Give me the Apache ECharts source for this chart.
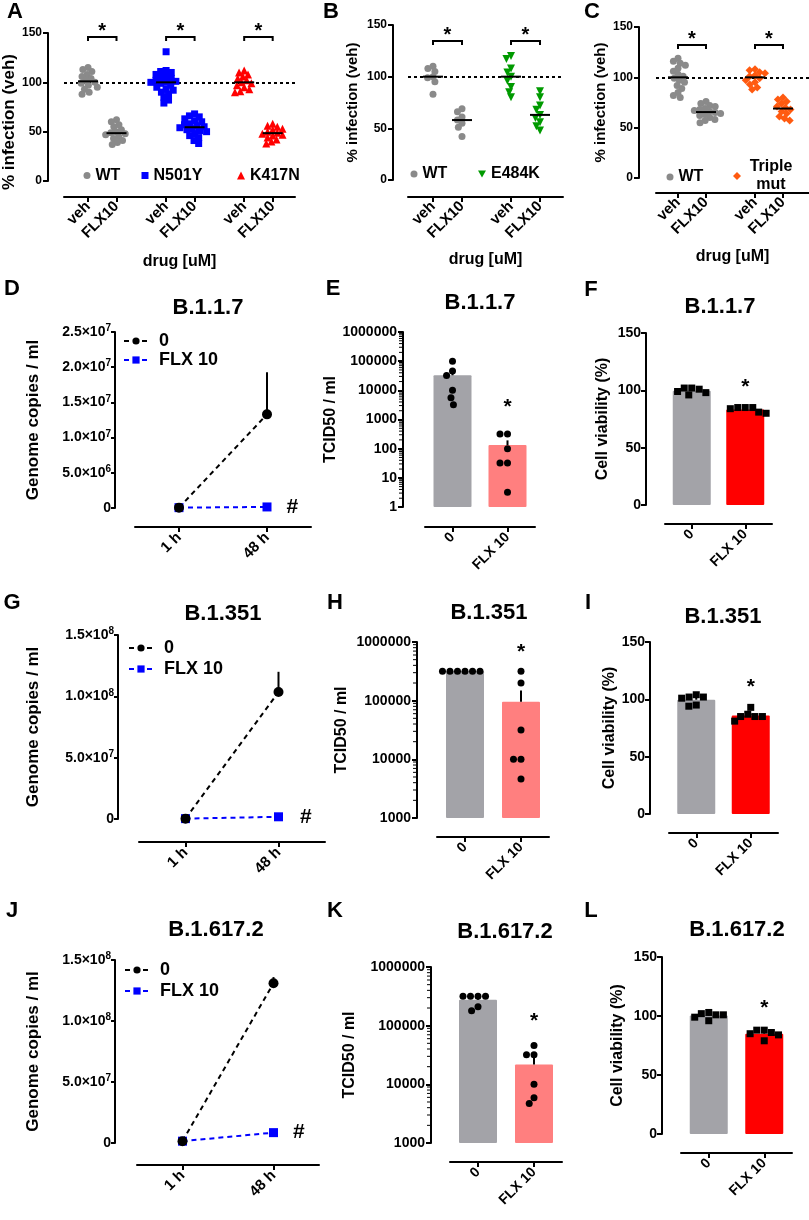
<!DOCTYPE html>
<html><head><meta charset="utf-8">
<script src="https://cdn.jsdelivr.net/npm/echarts@6/dist/echarts.min.js"></script>
<style>html,body{margin:0;padding:0;background:#fff}#c{width:809px;height:1220px}</style>
</head><body><div id="c"></div>
<script>
// ================= DATA =================
// Panel A: % infection (normalised to vehicle)
const A_WT_veh = [115, 113, 111, 108, 106, 104, 102, 100, 99, 97, 95, 93, 90, 88];
const A_WT_flx = [62, 60, 57, 55, 52, 50, 49, 48, 47, 45, 43, 41, 39, 37];
const A_N501Y_veh = [131, 112, 111, 110, 108, 106, 105, 104, 102, 101, 100, 100, 99, 97, 95, 93, 92, 90, 88, 85, 82, 79];
const A_N501Y_flx = [68, 66, 65, 63, 61, 60, 58, 57, 56, 55, 54, 53, 52, 51, 50, 48, 46, 44, 41, 38];
const A_K417N_veh = [112, 110, 108, 106, 104, 102, 100, 99, 97, 95, 93, 91, 90];
const A_K417N_flx = [58, 56, 55, 53, 52, 50, 49, 48, 47, 46, 44, 42, 40, 38];
// Panel B
const B_WT_veh = [110, 108, 105, 100, 99, 95, 83];
const B_WT_flx = [69, 66, 61, 58, 55, 51, 42];
const B_E484K_veh = [120, 117, 108, 104, 100, 96, 90, 85, 80];
const B_E484K_flx = [86, 80, 72, 68, 63, 60, 56, 52, 48];
// Panel C
const C_WT_veh = [119, 116, 114, 112, 109, 106, 103, 101, 99, 97, 95, 92, 89, 85, 82, 80];
const C_WT_flx = [76, 74, 72, 71, 69, 68, 67, 66, 65, 64, 63, 62, 60, 58, 57, 55];
const C_Triple_veh = [108, 107, 105, 104, 102, 101, 99, 97, 95, 93, 90, 88];
const C_Triple_flx = [80, 78, 76, 74, 71, 70, 68, 66, 64, 61, 59, 57];
const drugLabels = ['veh', 'FLX10'];
// Panels D, G, J: genome copies / ml (mean, upper error)
const timeLabels = ['1 h', '48 h'];
const D_zero = [5e4, 1.33e7];  const D_zero_err = [0, 6.0e6];  const D_flx = [5e4, 1.5e5];
const G_zero = [3e5, 1.035e8]; const G_zero_err = [0, 1.65e7]; const G_flx = [3e5, 1.8e6];
const J_zero = [1.5e6, 1.31e8]; const J_zero_err = [0, 5e6];   const J_flx = [1.5e6, 8.5e6];
// Panels E, H, K: TCID50 / ml (individual wells)
const doseLabels = ['0', 'FLX 10'];
const E_tcid_0 = [100000, 46000, 32000, 10000, 5600, 3200];
const E_tcid_flx = [316, 316, 100, 32, 32, 3.2];
const H_tcid_0 = [316228, 316228, 316228, 316228, 316228, 316228];
const H_tcid_flx = [316228, 200000, 31623, 10000, 10000, 4600];
const K_tcid_0 = [316228, 316228, 316228, 316228, 210000, 180000];
const K_tcid_flx = [46000, 32000, 32000, 10000, 5900, 4700];
// Panels F, I, L: cell viability (%)
const F_via_0 = [102, 101, 98, 96, 99, 102];
const F_via_flx = [85, 84, 80, 81, 85, 85];
const I_via_0 = [102, 101, 102, 104, 94, 95];
const I_via_flx = [87, 85, 81, 85, 93, 85];
const L_via_0 = [102, 101, 96, 99, 101, 103];
const L_via_flx = [88, 85, 79, 84, 88, 86];
const variantTitles = ['B.1.1.7', 'B.1.351', 'B.1.617.2'];
const panelLetters = ['A','B','C','D','E','F','G','H','I','J','K','L'];

// ================= HELPERS =================
const FONT = '"Liberation Sans", Arial, Helvetica, sans-serif';
const TXT = {color: '#000', fontWeight: 'bold', fontFamily: FONT};
const AXLINE = {show: true, onZero: false, lineStyle: {color: '#000', width: 2}};
function tick(len) { return {show: true, length: len || 5, lineStyle: {color: '#000', width: 2}}; }
function mean(a) { return a.reduce((s, v) => s + v, 0) / a.length; }
function sem(a) { const m = mean(a); const v = a.reduce((s, x) => s + (x - m) * (x - m), 0) / (a.length - 1); return Math.sqrt(v / a.length); }
function median(a) { const s = [...a].sort((x, y) => x - y); const n = s.length; return n % 2 ? s[(n - 1) / 2] : (s[n / 2 - 1] + s[n / 2]) / 2; }
function T(extra) { return Object.assign({}, TXT, extra); }

const option = {animation: false, backgroundColor: '#fff', textStyle: {fontFamily: FONT},
  grid: [], xAxis: [], yAxis: [], series: [], legend: [], graphic: []};
const swarmJobs = [];

function starText(x, y, size) {
  return {type: 'text', x: x, y: y, style: {text: '*', fill: '#000', font: 'bold ' + (size || 20) + 'px ' + FONT, align: 'center', verticalAlign: 'middle', textAlign: 'center', textVerticalAlign: 'middle'}};
}

// ---------- scatter (dot plot) panels A-C ----------
function scatterPanel(p) {
  const gi = option.grid.length;
  option.grid.push(Object.assign({}, p.grid));
  const positions = [];
  p.groups.forEach((g, k) => positions.push(k * p.pairGap, k * p.pairGap + 1));
  const labelOf = v => { const i = positions.findIndex(q => Math.abs(q - v) < 1e-6); return i < 0 ? '' : drugLabels[i % 2]; };
  option.xAxis.push({gridIndex: gi, type: 'value',
    min: (p.grid.left - p.origin) / p.step, max: (p.grid.left + p.grid.width - p.origin) / p.step,
    offset: p.xOff, axisLine: AXLINE, axisTick: Object.assign(tick(5), {customValues: positions}),
    splitLine: {show: false},
    axisLabel: T({fontSize: 15, rotate: 45, margin: 7, customValues: positions, formatter: labelOf}),
    name: 'drug [uM]', nameLocation: 'middle', nameGap: p.xNameGap, nameTextStyle: T({fontSize: 16})});
  option.yAxis.push({gridIndex: gi, type: 'value', min: 0, max: 150, interval: 50, offset: p.yOff,
    axisLine: AXLINE, axisTick: tick(5), splitLine: {show: false},
    axisLabel: T({fontSize: 12, margin: 6}),
    name: '% infection (veh)', nameLocation: 'middle', nameGap: p.yNameGap,
    nameTextStyle: T({fontSize: p.yNameSize, padding: p.yNamePad || 0})});
  const medians = [], brackets = [];
  p.groups.forEach((g, k) => {
    const x0 = positions[2 * k], x1 = positions[2 * k + 1];
    const si = option.series.length;
    const s = {type: 'scatter', name: g.name, xAxisIndex: gi, yAxisIndex: gi, symbol: g.symbol, symbolSize: g.size,
      itemStyle: {color: g.color, opacity: 1}, z: 3,
      data: [...g.veh.map(v => [x0, v]), ...g.flx.map(v => [x1, v])]};
    if (k === 0) s.markLine = {silent: true, symbol: ['none', 'none'], label: {show: false}, z: 1,
      lineStyle: {type: [3, 3], color: '#000', width: 2}, data: [{yAxis: 100}]};
    option.series.push(s);
    swarmJobs.push({si: si, d: 5.5});
    medians.push([x0, median(g.veh)], [x1, median(g.flx)]);
    brackets.push([x0, x1, p.bracketVal]);
  });
  option.series.push({type: 'custom', xAxisIndex: gi, yAxisIndex: gi, z: 6, encode: {x: 0, y: 1}, data: medians,
    renderItem: (params, api) => {
      const c = api.coord([api.value(0), api.value(1)]);
      return {type: 'line', shape: {x1: c[0] - 10, y1: c[1], x2: c[0] + 10, y2: c[1]}, style: {stroke: '#000', lineWidth: 2}};
    }});
  option.series.push({type: 'custom', xAxisIndex: gi, yAxisIndex: gi, z: 6, encode: {x: [0, 1], y: 2}, data: brackets,
    renderItem: (params, api) => {
      const a = api.coord([api.value(0), api.value(2)]);
      const b = api.coord([api.value(1), api.value(2)]);
      return {type: 'group', children: [
        {type: 'polyline', shape: {points: [[a[0], a[1] + 4], [a[0], a[1]], [b[0], b[1]], [b[0], b[1] + 4]]},
          style: {stroke: '#000', lineWidth: 2, fill: null}},
        starText((a[0] + b[0]) / 2, a[1] - 10 + 4.5, 20)]};
    }});
  p.legends.forEach(L => {
    option.legend.push({data: [L.name], left: L.left, top: L.top, padding: 0, itemWidth: L.size, itemHeight: L.size,
      selectedMode: false, itemGap: 0,
      formatter: n => n === 'Triple mut' ? '{c|Triple}\n{c|mut}' : n,
      textStyle: T({fontSize: 16, rich: {c: T({fontSize: 16, align: 'center', width: 50, lineHeight: 18})}})});
  });
}

// ---------- line panels D, G, J ----------
function sciLabel(v) {
  if (v === 0) return '{b|0}';
  const e = Math.floor(Math.log10(v) + 1e-9);
  const m = v / Math.pow(10, e);
  return '{b|' + m.toFixed(1) + '×10}{s|' + e + '}';
}
function linePanel(p) {
  const gi = option.grid.length;
  option.grid.push(Object.assign({}, p.grid));
  option.xAxis.push({gridIndex: gi, type: 'category', data: timeLabels, boundaryGap: true, offset: p.xOff,
    axisLine: AXLINE, axisTick: Object.assign(tick(5), {alignWithLabel: true}),
    axisLabel: T({fontSize: 15, rotate: 45, margin: 8})});
  option.yAxis.push({gridIndex: gi, type: 'value', min: 0, max: p.yMax, interval: p.yInt, offset: p.yOff,
    axisLine: AXLINE, axisTick: tick(4), splitLine: {show: false},
    axisLabel: {margin: 4, formatter: sciLabel, rich: {
      b: T({fontSize: 14, lineHeight: 17}),
      s: T({fontSize: 10, lineHeight: 7, verticalAlign: 'top'})}},
    name: 'Genome copies / ml', nameLocation: 'middle', nameGap: p.yNameGap, nameTextStyle: T({fontSize: 17})});
  const dash = [5, 4];
  option.series.push({type: 'line', name: 'FLX 10', xAxisIndex: gi, yAxisIndex: gi, z: 3,
    symbol: 'rect', symbolSize: 9, color: '#0000ff',
    lineStyle: {color: '#0000ff', width: 2, type: dash}, itemStyle: {color: '#0000ff'},
    data: p.flx.map((v, i) => i === 1 ? {value: v, label: {show: true, formatter: '#', position: 'right', distance: p.hashDist,
      color: '#000', fontWeight: 'bold', fontSize: 21, fontFamily: FONT}} : v)});
  option.series.push({type: 'line', name: '0', xAxisIndex: gi, yAxisIndex: gi, z: 4,
    symbol: 'circle', symbolSize: 10, color: '#000',
    lineStyle: {color: '#000', width: 2, type: dash}, itemStyle: {color: '#000'}, data: p.zero.slice()});
  const errs = [];
  p.zero.forEach((m, i) => { if (p.zeroErr[i] > 0) errs.push([i, m, m + p.zeroErr[i]]); });
  option.series.push({type: 'custom', xAxisIndex: gi, yAxisIndex: gi, z: 2, encode: {x: 0, y: [1, 2]}, data: errs,
    renderItem: (params, api) => {
      const a = api.coord([api.value(0), api.value(1)]), b = api.coord([api.value(0), api.value(2)]);
      return {type: 'line', shape: {x1: a[0], y1: a[1], x2: b[0], y2: b[1]}, style: {stroke: '#000', lineWidth: 2}};
    }});
  option.legend.push({data: ['0', 'FLX 10'], orient: 'vertical', left: p.legend.left, top: p.legend.top, padding: 0,
    itemWidth: 24, itemHeight: 9, itemGap: p.legend.gap, selectedMode: false,
    textStyle: T({fontSize: 18, padding: [0, 0, 0, 6]})});
}

// ---------- bar panels E/F, H/I, K/L ----------
function barPanel(p) {
  const gi = option.grid.length;
  option.grid.push(Object.assign({}, p.grid));
  option.xAxis.push({gridIndex: gi, type: 'category', data: doseLabels, boundaryGap: true, offset: p.xOff,
    axisLine: AXLINE, axisTick: Object.assign(tick(5), {alignWithLabel: true}),
    axisLabel: T({fontSize: 14, rotate: 45, margin: 8})});
  const y = {gridIndex: gi, offset: p.yOff, axisLine: AXLINE, axisTick: tick(5), splitLine: {show: false},
    name: p.yName, nameLocation: 'middle', nameGap: p.yNameGap, nameTextStyle: T({fontSize: 16})};
  if (p.log) Object.assign(y, {type: 'log', logBase: 10, min: p.yMin, max: p.yMax,
      axisLabel: T({fontSize: 14, margin: 6, formatter: v => String(Math.round(v))})});
  else Object.assign(y, {type: 'value', min: 0, max: 150, interval: 50, axisLabel: T({fontSize: 14, margin: 5})});
  option.yAxis.push(y);
  if (p.log) {
    // minor log ticks (2..9 x each decade) drawn on the y axis line
    const minor = [];
    for (let e = Math.round(Math.log10(p.yMin)); e < Math.round(Math.log10(p.yMax)); e++)
      for (let m = 2; m <= 9; m++) minor.push([0, m * Math.pow(10, e)]);
    option.series.push({type: 'custom', xAxisIndex: gi, yAxisIndex: gi, z: 5, silent: true, encode: {x: 0, y: 1}, data: minor,
      renderItem: (params, api) => {
        const c = api.coord([0, api.value(1)]);
        const x = params.coordSys.x - p.yOff;
        return {type: 'line', shape: {x1: x - 4, y1: c[1], x2: x, y2: c[1]}, style: {stroke: '#000', lineWidth: 1}};
      }});
  }
  const groups = [p.dots0, p.dots1];
  const base = p.log ? p.yMin : 0;
  option.series.push({type: 'custom', xAxisIndex: gi, yAxisIndex: gi, z: 1, encode: {x: 0, y: 1},
    data: groups.map((g, i) => [i, mean(g)]),
    renderItem: (params, api) => {
      const t = api.coord([api.value(0), api.value(1)]), b = api.coord([api.value(0), base]);
      const w = 38;
      return {type: 'rect', shape: {x: t[0] - w / 2, y: t[1], width: w, height: b[1] - t[1], r: 1},
        style: {fill: p.colors[params.dataIndex]}};
    }});
  option.series.push({type: 'custom', xAxisIndex: gi, yAxisIndex: gi, z: 2, encode: {x: 0, y: [1, 2]},
    data: groups.map((g, i) => [i, mean(g), mean(g) + sem(g)]),
    renderItem: (params, api) => {
      const a = api.coord([api.value(0), api.value(1)]), b = api.coord([api.value(0), api.value(2)]);
      return {type: 'line', shape: {x1: a[0], y1: a[1], x2: b[0], y2: b[1]}, style: {stroke: '#000', lineWidth: 2}};
    }});
  const si = option.series.length;
  option.series.push({type: 'scatter', xAxisIndex: gi, yAxisIndex: gi, z: 3, symbol: p.symbol, symbolSize: 7,
    itemStyle: {color: '#000', opacity: 1},
    data: [...p.dots0.map(v => [0, v]), ...p.dots1.map(v => [1, v])]});
  swarmJobs.push({si: si, d: 7.5});
  option.series.push({type: 'custom', xAxisIndex: gi, yAxisIndex: gi, z: 4, encode: {x: 0, y: 1},
    data: [[1, Math.max(...p.dots1)]],
    renderItem: (params, api) => {
      const c = api.coord([api.value(0), api.value(1)]);
      return starText(c[0], c[1] - p.starGap + 4.5, 21);
    }});
}

// ================= PANELS =================
scatterPanel({grid: {left: 64, top: 33, width: 231, height: 148}, yOff: 16, xOff: 16, origin: 88, step: 28.5, pairGap: 2.74,
  bracketVal: 146, yNameGap: 27, yNameSize: 17, yNamePad: [0, 30, 0, 0], xNameGap: 57,
  groups: [
    {name: 'WT', veh: A_WT_veh, flx: A_WT_flx, color: '#8a8a8a', symbol: 'circle', size: 7},
    {name: 'N501Y', veh: A_N501Y_veh, flx: A_N501Y_flx, color: '#0000ff', symbol: 'rect', size: 7},
    {name: 'K417N', veh: A_K417N_veh, flx: A_K417N_flx, color: '#ff0000', symbol: 'triangle', size: 8}],
  legends: [{name: 'WT', left: 83.5, top: 167.5, size: 7}, {name: 'N501Y', left: 141.5, top: 167.5, size: 7},
            {name: 'K417N', left: 237, top: 167.5, size: 8}]});
scatterPanel({grid: {left: 408, top: 25, width: 155, height: 155}, yOff: 15, xOff: 17, origin: 433, step: 29, pairGap: 2.69,
  bracketVal: 134.5, yNameGap: 33, yNameSize: 15, xNameGap: 55,
  groups: [
    {name: 'WT', veh: B_WT_veh, flx: B_WT_flx, color: '#8a8a8a', symbol: 'circle', size: 7},
    {name: 'E484K', veh: B_E484K_veh, flx: B_E484K_flx, color: '#009a00', symbol: 'path://M0,0L10,0L5,9Z', size: 8}],
  legends: [{name: 'WT', left: 410.5, top: 166, size: 7}, {name: 'E484K', left: 478, top: 166, size: 8}]});
scatterPanel({grid: {left: 656, top: 27, width: 153, height: 151}, yOff: 17, xOff: 15, origin: 678, step: 28, pairGap: 2.75,
  bracketVal: 132, yNameGap: 31, yNameSize: 15, xNameGap: 56,
  groups: [
    {name: 'WT', veh: C_WT_veh, flx: C_WT_flx, color: '#8a8a8a', symbol: 'circle', size: 7},
    {name: 'Triple mut', veh: C_Triple_veh, flx: C_Triple_flx, color: '#ff5a10', symbol: 'diamond', size: 8}],
  legends: [{name: 'WT', left: 666.5, top: 169, size: 7}, {name: 'Triple mut', left: 733, top: 159, size: 8}]});

linePanel({grid: {left: 135, top: 332, width: 176, height: 176}, yOff: 20, xOff: 19, yMax: 2.5e7, yInt: 5e6, yNameGap: 73,
  zero: D_zero, zeroErr: D_zero_err, flx: D_flx, hashDist: 15, legend: {left: 123, top: 332, gap: 1}});
barPanel({grid: {left: 425, top: 332, width: 110, height: 175}, yOff: 22, xOff: 20, log: true, yMin: 1, yMax: 1e6,
  yName: 'TCID50 / ml', yNameGap: 62, dots0: E_tcid_0, dots1: E_tcid_flx, colors: ['#a3a3a8', '#ff7f7f'], symbol: 'circle', starGap: 31});
barPanel({grid: {left: 665, top: 333, width: 107, height: 172}, yOff: 19, xOff: 19, log: false,
  yName: 'Cell viability (%)', yNameGap: 35, dots0: F_via_0, dots1: F_via_flx, colors: ['#a3a3a8', '#ff0000'], symbol: 'rect', starGap: 25});

linePanel({grid: {left: 139, top: 635, width: 186, height: 184}, yOff: 21, xOff: 23, yMax: 1.5e8, yInt: 5e7, yNameGap: 76,
  zero: G_zero, zeroErr: G_zero_err, flx: G_flx, hashDist: 17, legend: {left: 128, top: 639, gap: 3}});
barPanel({grid: {left: 437, top: 642, width: 112, height: 176}, yOff: 20, xOff: 19, log: true, yMin: 1000, yMax: 1e6,
  yName: 'TCID50 / ml', yNameGap: 67, dots0: H_tcid_0, dots1: H_tcid_flx, colors: ['#a3a3a8', '#ff7f7f'], symbol: 'circle', starGap: 24});
barPanel({grid: {left: 669, top: 642, width: 109, height: 172}, yOff: 19, xOff: 19, log: false,
  yName: 'Cell viability (%)', yNameGap: 32, dots0: I_via_0, dots1: I_via_flx, colors: ['#a3a3a8', '#ff0000'], symbol: 'rect', starGap: 25});

linePanel({grid: {left: 137, top: 960, width: 182, height: 183}, yOff: 22, xOff: 22, yMax: 1.5e8, yInt: 5e7, yNameGap: 73,
  zero: J_zero, zeroErr: J_zero_err, flx: J_flx, hashDist: 15, legend: {left: 124, top: 961, gap: 3}});
barPanel({grid: {left: 450, top: 967, width: 112, height: 176}, yOff: 19, xOff: 19, log: true, yMin: 1000, yMax: 1e6,
  yName: 'TCID50 / ml', yNameGap: 73, dots0: K_tcid_0, dots1: K_tcid_flx, colors: ['#a3a3a8', '#ff7f7f'], symbol: 'circle', starGap: 29});
barPanel({grid: {left: 681, top: 957, width: 111, height: 177}, yOff: 19, xOff: 19, log: false,
  yName: 'Cell viability (%)', yNameGap: 36, dots0: L_via_0, dots1: L_via_flx, colors: ['#a3a3a8', '#ff0000'], symbol: 'rect', starGap: 26});

// ---------- panel letters and titles ----------
const letterPos = [[15, 12], [331, 12], [592, 12], [12, 289], [333, 289], [591, 290], [12, 603], [335, 603], [588, 603], [12, 911], [335, 911], [591, 911]];
panelLetters.forEach((L, i) => option.graphic.push({type: 'text', x: letterPos[i][0], y: letterPos[i][1],
  style: {text: L, fill: '#000', font: 'bold 22px ' + FONT, align: 'center', verticalAlign: 'middle', textAlign: 'center', textVerticalAlign: 'middle'}}));
const titlePos = [[208, 308], [480, 303], [720, 307], [223, 614], [489, 613], [723, 617], [216, 930], [505, 932], [737, 930]];
titlePos.forEach((t, i) => option.graphic.push({type: 'text', x: t[0], y: t[1],
  style: {text: variantTitles[Math.floor(i / 3)], fill: '#000', font: 'bold 22px ' + FONT, align: 'center', verticalAlign: 'middle', textAlign: 'center', textVerticalAlign: 'middle'}}));

// ================= RENDER =================
const chart = echarts.init(document.getElementById('c'), null, {renderer: 'canvas', width: 809, height: 1220});
chart.setOption(option);

function swarmOffsets(pys, d) {
  const order = pys.map((_, i) => i).sort((a, b) => pys[a] - pys[b]);
  const placed = []; const out = new Array(pys.length).fill(0);
  for (const i of order) {
    const y = pys[i];
    const near = placed.filter(q => Math.abs(q.y - y) < d);
    const cands = [0];
    near.forEach(q => { const dx = Math.sqrt(d * d - (q.y - y) * (q.y - y)); cands.push(q.x + dx + 0.01, q.x - dx - 0.01); });
    cands.sort((a, b) => Math.abs(a) - Math.abs(b) || a - b);
    let best = 0;
    for (const c of cands) { if (near.every(q => (q.x - c) * (q.x - c) + (q.y - y) * (q.y - y) >= d * d - 0.02)) { best = c; break; } }
    placed.push({x: best, y: y}); out[i] = best;
  }
  return out;
}
swarmJobs.forEach(job => {
  const s = option.series[job.si];
  const pts = s.data.map(pt => Array.isArray(pt) ? pt : pt.value);
  const byX = {};
  pts.forEach((pt, i) => { (byX[pt[0]] = byX[pt[0]] || []).push(i); });
  const offs = new Array(pts.length).fill(0);
  Object.keys(byX).forEach(k => {
    const idx = byX[k];
    const pys = idx.map(i => chart.convertToPixel({seriesIndex: job.si}, pts[i])[1]);
    const o = swarmOffsets(pys, job.d);
    idx.forEach((i, j) => { offs[i] = o[j]; });
  });
  s.data = pts.map((pt, i) => ({value: pt, symbolOffset: [offs[i], 0]}));
});
chart.setOption(option, true);
</script>
</body></html>
